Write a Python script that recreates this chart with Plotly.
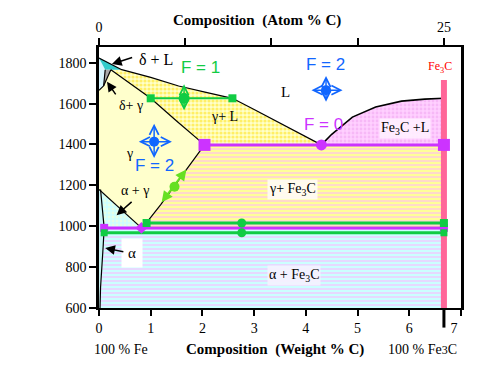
import plotly.graph_objects as go

# ---------------- data (composition in wt % C, temperature in K) ----------------
wt_ticks = [0, 1, 2, 3, 4, 5, 6, 7]
wt_tick_labels = ["0", "1", "2", "3", "4", "5", "6", "7\u2003"]
atom_ticks = [0, 6.25, 12.5, 18.75, 25]
atom_tick_labels = ["0", "", "", "", "25"]
T_ticks = [600, 800, 1000, 1200, 1400, 1600, 1800]

X_FE3C = 6.67
T_EUTECTIC = 1398
T_EUTECTOID = 992
T_TIE_UP = 1016
T_TIE_LOW = 968
T_FE3C_TOP = 1715

liq_left_x = [0.0, 0.44, 1.0, 1.54, 2.05, 2.58, 3.0, 3.4, 3.85, 4.3]
liq_left_T = [1823, 1766, 1728, 1686, 1656, 1626, 1571, 1517, 1458, 1398]
liq_right_x = [4.3, 4.5, 4.9, 5.35, 5.85, 6.3, 6.67]
liq_right_T = [1398, 1450, 1534, 1583, 1612, 1622, 1626]
solidus_x = [0.23, 0.6, 1.0, 1.5, 2.04]
solidus_T = [1766, 1699, 1626, 1515, 1398]
acm_x = [2.04, 1.69, 1.46, 1.19, 0.92, 0.82]
acm_T = [1398, 1278, 1195, 1105, 1018, 992]
a3_x = [0.0, 0.4, 0.82]
a3_T = [1180, 1087, 992]
alpha_x = [0.03, 0.06, 0.1, 0.08, 0.05, 0.03, 0.02]
alpha_T = [1180, 1090, 992, 900, 800, 700, 600]
delta_x = [0.0, 0.12, 0.09, 0.0]
delta_T = [1823, 1766, 1687, 1665]
deltaL_x = [0.0, 0.44, 0.12]
deltaL_T = [1823, 1766, 1766]
deltagamma_x = [0.12, 0.23, 0.09]
deltagamma_T = [1766, 1766, 1687]

# F = 1 tie line in gamma + L
tieL_x = [1.0, 2.58]
tieL_mid_x = 1.645
tieL_T = 1626
# F = 2 points
f2_gamma = (1.066, 1414)
f2_liquid = (4.39, 1666)
# F = 1 point on A_cm
acm_pt = (1.46, 1193)
tie_mid_x = 2.76
eutectic_x = 4.3

# ---------------- helpers ----------------
fig = go.Figure()

def poly(xs, ts, color, pattern=None):
    kw = dict(x=xs, y=ts, mode="lines", fill="toself", fillcolor=color,
              line=dict(width=0, color=color), hoverinfo="skip", showlegend=False)
    if pattern:
        kw["fillpattern"] = pattern
    fig.add_trace(go.Scatter(**kw))

def line(xs, ts, color="black", width=1.2):
    fig.add_trace(go.Scatter(x=xs, y=ts, mode="lines", line=dict(color=color, width=width),
                             hoverinfo="skip", showlegend=False))

def marks(xs, ts, color, symbol, size):
    fig.add_trace(go.Scatter(x=xs, y=ts, mode="markers",
                             marker=dict(color=color, symbol=symbol, size=size, line=dict(width=0)),
                             hoverinfo="skip", showlegend=False))

GREEN = "#11CC44"
MAG = "#CC33FF"
BLUE = "#1166FF"
LGREEN = "#66E022"
PINK = "#FF6699"

# ---------------- regions ----------------
poly(alpha_x[2:] + [X_FE3C, X_FE3C], alpha_T[2:] + [600, T_EUTECTOID], "#CCFFFF",
     dict(shape="-", bgcolor="#CCFFFF", fgcolor="#FFB4FF", size=4, solidity=0.5))
poly(acm_x + [X_FE3C, X_FE3C], acm_T + [T_EUTECTOID, T_EUTECTIC], "#FFFF99",
     dict(shape="-", bgcolor="#FFFF99", fgcolor="#FFB4FF", size=4, solidity=0.5))
poly(a3_x + alpha_x[2::-1], a3_T + alpha_T[2::-1], "#CCFFFF",
     dict(shape=".", bgcolor="#CCFFFF", fgcolor="#FFFFCC", size=4, solidity=0.4))
poly(alpha_x + [0, 0], alpha_T + [600, alpha_T[0]], "#C8F4F4")
g_x = [0.0, 0.09] + solidus_x + acm_x[1:] + a3_x[::-1]
g_T = [1665, 1687] + solidus_T + acm_T[1:] + a3_T[::-1]
poly(g_x, g_T, "#FFFFCC")
poly(liq_left_x[1:] + solidus_x[::-1], liq_left_T[1:] + solidus_T[::-1], "#FFFFCC",
     dict(shape=".", bgcolor="#FFFFCC", fgcolor="#FFE000", size=4, solidity=0.5))
poly(liq_right_x + [X_FE3C], liq_right_T + [T_EUTECTIC], "#FFD0FF",
     dict(shape=".", bgcolor="#FFD0FF", fgcolor="#F0A0F0", size=4, solidity=0.4))
poly(delta_x, delta_T, "#D8F6FF")
poly(deltaL_x, deltaL_T, "#33CCCC")
poly(deltagamma_x, deltagamma_T, "#AAAAAA")

# ---------------- boundaries ----------------
line(liq_left_x, liq_left_T)
line(liq_right_x, liq_right_T, width=1.6)
line(solidus_x, solidus_T)
line(acm_x, acm_T)
line(a3_x, a3_T)
line(alpha_x, alpha_T)
line(delta_x[1:], delta_T[1:])
line([deltagamma_x[1], deltagamma_x[2]], [deltagamma_T[1], deltagamma_T[2]])

line([X_FE3C, X_FE3C], [600, T_FE3C_TOP], PINK, 6)

line([solidus_x[-1], X_FE3C], [T_EUTECTIC, T_EUTECTIC], MAG, 3)
marks([solidus_x[-1], X_FE3C], [T_EUTECTIC, T_EUTECTIC], MAG, "square", 12)
marks([eutectic_x], [T_EUTECTIC], MAG, "circle", 11)

line([alpha_x[2], X_FE3C], [T_EUTECTOID, T_EUTECTOID], MAG, 3)
line([acm_x[-2], X_FE3C], [T_TIE_UP, T_TIE_UP], GREEN, 3)
line([alpha_x[2], X_FE3C], [T_TIE_LOW, T_TIE_LOW], GREEN, 3)
marks([alpha_x[2], X_FE3C], [T_EUTECTOID, T_EUTECTOID], MAG, "square", 8)
marks([acm_x[-1]], [T_EUTECTOID], MAG, "diamond", 9)
marks([acm_x[-2], X_FE3C], [T_TIE_UP, T_TIE_UP], GREEN, "square", 8)
marks([alpha_x[2], X_FE3C], [T_TIE_LOW, T_TIE_LOW], GREEN, "square", 7)
marks([tie_mid_x, tie_mid_x], [T_TIE_UP, T_TIE_LOW], GREEN, "circle", 9)

line(tieL_x, [tieL_T, tieL_T], GREEN, 2)
marks(tieL_x, [tieL_T, tieL_T], GREEN, "square", 8)
marks([tieL_mid_x], [tieL_T], GREEN, "circle", 11)

marks([f2_gamma[0], f2_liquid[0]], [f2_gamma[1], f2_liquid[1]], BLUE, "circle", 10)
marks([acm_pt[0]], [acm_pt[1]], LGREEN, "circle", 10)

fig.add_trace(go.Scatter(x=[0], y=[600], xaxis="x2", mode="markers",
                         marker=dict(opacity=0), hoverinfo="skip", showlegend=False))

# ---------------- annotations ----------------
SERIF = "Liberation Serif"
SANS = "Liberation Sans"
ann = []

def text(x, y, s, size=14, color="black", family=SERIF, bg=None, xref="x", yref="y", **kw):
    d = dict(x=x, y=y, xref=xref, yref=yref, text=s, showarrow=False,
             xanchor="center", yanchor="middle",
             font=dict(family=family, size=size, color=color))
    if bg:
        d["bgcolor"] = bg
    d.update(kw)
    ann.append(d)

def arrow(x0, y0, x1, y1, color="black", width=1.5, head=2, size=1.3, both=False):
    ann.append(dict(x=x1, y=y1, ax=x0, ay=y0, xref="x", yref="y", axref="x", ayref="y",
                    text="", showarrow=True, arrowhead=head, startarrowhead=head,
                    arrowsize=size, startarrowsize=size, arrowwidth=width, arrowcolor=color,
                    arrowside="end+start" if both else "end", standoff=0, startstandoff=0))

text(1.97, 1776, "F = 1", 17, GREEN, SANS)
text(1.07, 1295, "F = 2", 17, BLUE, SANS)
text(4.38, 1790, "F = 2", 17, BLUE, SANS)
text(4.35, 1500, "F = 0", 17, MAG, SANS)

text(3.61, 1659, "L", 15)
text(5.92, 1478, "Fe<sub>3</sub>C +L", 14, bg="rgba(255,240,255,0.9)")
text(2.42, 1536, "γ+ L", 14)
text(0.59, 1358, "γ", 14)
text(3.75, 1181, "γ+ Fe<sub>3</sub>C", 14, bg="rgba(255,252,245,0.9)")
text(3.78, 757, "α + Fe<sub>3</sub>C", 14, bg="rgba(245,242,255,0.9)")
text(0.69, 1175, "α + γ", 14)
text(0.63, 869, "α", 15, bg="white", borderpad=6)
text(1.10, 1816, "δ + L", 16)
text(0.61, 1590, "δ+ γ", 14)
text(-0.575, 1686, "δ", 16)
text(6.6, 1780, "Fe<sub>3</sub>C", 12, "#FF0000")

arrow(0.67, 1828, 0.25, 1794)
arrow(0.343, 1638, 0.155, 1707)
arrow(-0.39, 1689, -0.03, 1750, width=1.3)
arrow(0.66, 1126, 0.34, 1054)
arrow(0.50, 874, 0.12, 893)

arrow(0.74, f2_gamma[1], 1.41, f2_gamma[1], BLUE, 1.5, 5, 1.2, True)
arrow(f2_gamma[0], 1326, f2_gamma[0], 1502, BLUE, 1.5, 5, 1.2, True)
arrow(4.08, f2_liquid[1], 4.71, f2_liquid[1], BLUE, 1.5, 5, 1.2, True)
arrow(f2_liquid[0], 1602, f2_liquid[0], 1735, BLUE, 1.5, 5, 1.2, True)
arrow(tieL_mid_x, 1560, tieL_mid_x, 1695, GREEN, 1.5, 5, 1.2, True)
arrow(1.19, 1110, 1.69, 1278, LGREEN, 2, 2, 1.1, True)

text(-0.40, 1734, "<b>T</b>", 15)
text(-0.40, 1633, "<b>[K]</b>", 15)
arrow(-0.368, 781, -0.368, 1488, "black", 3, 2, 1.0)

text(0.485, -0.160, "<b>Composition  (Weight % C)</b>", 15, xref="paper", yref="paper")
text(0.437, 1.101, "<b>Composition  (Atom % C)</b>", 15, xref="paper", yref="paper")
text(0.062, -0.160, "100 % Fe", 14, xref="paper", yref="paper")
text(0.895, -0.160, "100 % Fe<span style='font-size:12px'>3</span>C", 14,
     xref="paper", yref="paper")

# the page body has an 8 px margin, so the figure is sized and placed to compensate
fig.update_layout(
    width=476, height=359,
    margin=dict(l=91, r=14, t=34, b=59),
    paper_bgcolor="white", plot_bgcolor="white",
    showlegend=False,
    annotations=ann,
    xaxis=dict(range=[0, 7], tickvals=wt_ticks, ticktext=wt_tick_labels,
               ticks="outside", ticklen=6, tickwidth=2, tickcolor="black",
               showline=True, linewidth=2, linecolor="black", mirror=True,
               showgrid=False, zeroline=False,
               tickfont=dict(family=SERIF, size=14, color="black")),
    xaxis2=dict(range=[0, 7 * 25 / X_FE3C], overlaying="x", side="top",
                tickvals=atom_ticks, ticktext=atom_tick_labels,
                ticks="outside", ticklen=8, tickwidth=2, tickcolor="black",
                showline=False, showgrid=False, zeroline=False,
                tickfont=dict(family=SERIF, size=14, color="black")),
    yaxis=dict(range=[600, 1877], tickvals=T_ticks,
               ticks="outside", ticklen=7, tickwidth=2, tickcolor="black",
               showline=True, linewidth=2.5, linecolor="black", mirror=True,
               showgrid=False, zeroline=False,
               tickfont=dict(family=SERIF, size=14, color="black")),
    shapes=[dict(type="line", xref="x", yref="paper", x0=X_FE3C, x1=X_FE3C, y0=0, y1=-0.075,
                 line=dict(color="black", width=3))],
)

fig.write_html("out.html")
